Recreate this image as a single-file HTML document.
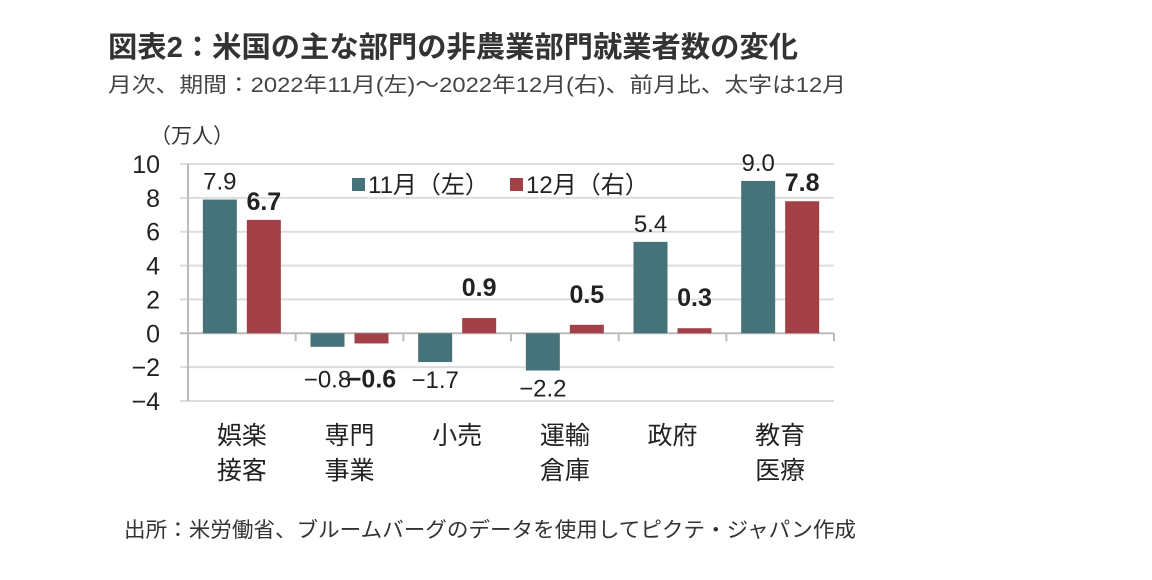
<!DOCTYPE html>
<html><head><meta charset="utf-8"><style>
html,body{margin:0;padding:0;background:#fff;}
svg{display:block;font-family:"Liberation Sans","Noto Sans CJK JP",sans-serif;}
</style></head><body>
<svg id="c" width="1152" height="580" viewBox="0 0 1152 580">
<text x="108" y="57" font-size="29" font-weight="bold" fill="#333" textLength="690" lengthAdjust="spacingAndGlyphs">図表2：米国の主な部門の非農業部門就業者数の変化</text>
<text x="108" y="92" font-size="21" fill="#444" textLength="738" lengthAdjust="spacingAndGlyphs">月次、期間：2022年11月(左)～2022年12月(右)、前月比、太字は12月</text>
<text x="150" y="143" font-size="21" fill="#333">（万人）</text>
<g id="grid"></g><g id="bars"></g><g id="lbl"></g>
<g>
<rect x="352" y="178" width="13" height="13" fill="#46737a"/>
<text x="368" y="193" font-size="24" fill="#222">11月（左）</text>
<rect x="510" y="178" width="13" height="13" fill="#a33f47"/>
<text x="526" y="193" font-size="24" fill="#222">12月（右）</text>
</g>
<text x="124" y="537" font-size="21" fill="#333" textLength="732" lengthAdjust="spacingAndGlyphs">出所：米労働省、ブルームバーグのデータを使用してピクテ・ジャパン作成</text>
</svg>
<script>
const categories=[["娯楽","接客"],["専門","事業"],["小売",""],["運輸","倉庫"],["政府",""],["教育","医療"]];
const novValues=[7.9,-0.8,-1.7,-2.2,5.4,9.0];
const decValues=[6.7,-0.6,0.9,0.5,0.3,7.8];
const yTicks=[10,8,6,4,2,0,-2,-4];
const NS="http://www.w3.org/2000/svg";
const X0=188,X1=834,Y10=164,YM4=401;
const y=v=>Y10+(10-v)*(YM4-Y10)/14;
const cw=(X1-X0)/categories.length;
const cx=i=>X0+cw*(i+0.5);
function mk(t,a,p){const e=document.createElementNS(NS,t);for(const k in a)e.setAttribute(k,a[k]);document.getElementById(p).appendChild(e);return e;}
yTicks.forEach(t=>{
 const l=mk("line",{x1:X0-8,x2:X1,y1:y(t),y2:y(t),stroke:t===0?"#bbb":"#ddd","stroke-width":2},"grid");
 
 
 const tx=mk("text",{x:X0-28,y:y(t)+9,"font-size":25,"text-anchor":"end",fill:"#222"},"grid");
 tx.textContent=t<0?"−"+(-t):String(t);
 
 
});
const ax=mk("line",{x1:X0,x2:X0,y1:Y10,y2:YM4,stroke:"#bbb","stroke-width":2},"grid");


for(let i=0;i<=categories.length;i++){
 const tk=mk("line",{x1:X0+cw*i,x2:X0+cw*i,y1:y(0),y2:y(0)+8,stroke:"#bbb","stroke-width":2},"grid");
 
 
}
const fmt=v=>(v<0?"−":"")+Math.abs(v).toFixed(1);
categories.forEach((c,i)=>{
 [[novValues,"#46737a",-39,"normal"],[decValues,"#a33f47",5,"bold"]].forEach(([arr,col,off,fw],s)=>{
  const v=arr[i];const top=Math.min(y(v),y(0));const h=Math.abs(y(v)-y(0));
  const r=mk("rect",{x:cx(i)+off,y:top,width:34,height:h,fill:col},"bars");
  
  
  const gap=(s&&v<2)?22:10;
  const ly=v>=0?y(v)-gap:Math.max(y(v)+26,y(0)+54);
  const t=mk("text",{x:cx(i)+off+17,y:ly,"font-size":s?25:24,"text-anchor":"middle",fill:"#222","font-weight":fw},"lbl");
  t.textContent=fmt(v);
  
  
 });
 c.forEach((w,j)=>{if(!w)return;
  const t=mk("text",{x:cx(i),y:444+j*35,"font-size":25,"text-anchor":"middle",fill:"#222"},"lbl");
  t.textContent=w;
  
  
 });
});
</script>
</body></html>
